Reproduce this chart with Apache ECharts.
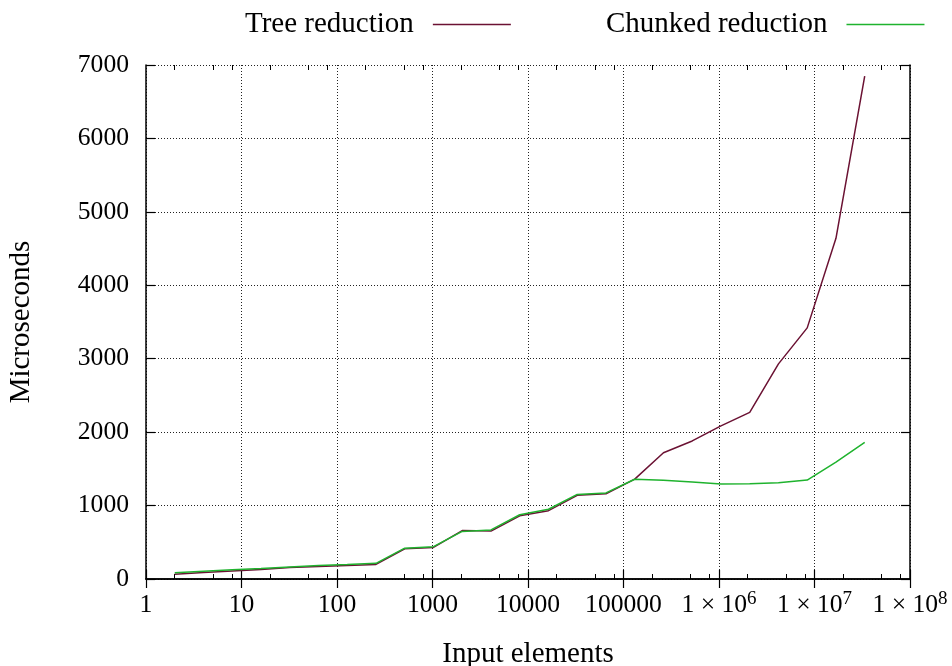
<!DOCTYPE html>
<html>
<head>
<meta charset="utf-8">
<script src="https://cdn.jsdelivr.net/npm/echarts@6/dist/echarts.min.js"></script>
<style>
  html, body { margin: 0; padding: 0; background: #fff; }
  #chart { width: 952px; height: 666px; }
</style>
</head>
<body>
<div id="chart"></div>
<script>
// input sizes (powers of two) and measured times in microseconds
const inputSizes = [2, 4, 8, 16, 32, 64, 128, 256, 512, 1024, 2048, 4096, 8192, 16384, 32768,
  65536, 131072, 262144, 524288, 1048576, 2097152, 4194304, 8388608, 16777216, 33554432]
const treeTimes = [65, 90, 110, 130, 155, 170, 185, 198, 412, 430, 660, 652, 860, 930, 1140,
  1160, 1360, 1720, 1880, 2085, 2270, 2930, 3420, 4640, 6850]
const chunkedTimes = [86, 105, 125, 142, 165, 185, 198, 213, 420, 440, 648, 668, 875, 950, 1152,
  1172, 1358, 1344, 1321, 1294, 1298, 1312, 1348, 1593, 1862]

const xTickLabels = ['1', '10', '100', '1000', '10000', '100000', '1 × 10^6', '1 × 10^7', '1 × 10^8']
const yTickLabels = ['0', '1000', '2000', '3000', '4000', '5000', '6000', '7000']

const FONT = 'Liberation Serif, Times New Roman, serif'
const TREE = '#6b1233'
const CHUNK = '#1fb32e'

// minor tics at 2, 5, 8 of every decade
const minorTicks = []
for (let e = 0; e < 8; e++) [2, 5, 8].forEach(m => minorTicks.push(m * Math.pow(10, e)))

const chart = echarts.init(document.getElementById('chart'))

function xLabel(v) {
  const s = xTickLabels[Math.round(Math.log10(v))]
  if (!s) return ''
  const p = s.split('^')
  return p.length > 1 ? '{n|' + p[0] + '}{s|' + p[1] + '}' : '{n|' + s + '}'
}

function legendFor(name, left) {
  return {
    left: left, top: 5, align: 'right', itemWidth: 78, itemHeight: 14,
    itemStyle: { opacity: 0 },
    lineStyle: { width: 1.5 },
    textStyle: { fontFamily: FONT, fontSize: 29, color: '#000', padding: [0, 14, 0, 0] },
    data: [name]
  }
}

const baseX = { type: 'log', logBase: 10, min: 1, max: 100000000, gridIndex: 0 }
const axisLine = { show: true, lineStyle: { color: '#000', width: 1.5 } }

chart.setOption({
  animation: false,
  backgroundColor: '#fff',
  textStyle: { fontFamily: FONT },
  legend: [legendFor('Tree reduction', 240), legendFor('Chunked reduction', 601)],
  grid: { left: 146, right: 42, top: 65, bottom: 87, outerBoundsMode: 'none' },
  xAxis: [
    Object.assign({}, baseX, {
      position: 'bottom',
      name: 'Input elements', nameLocation: 'middle', nameGap: 61,
      nameTextStyle: { fontFamily: FONT, fontSize: 29, color: '#000' },
      axisLine: axisLine,
      axisTick: { show: true, inside: true, length: 9, lineStyle: { color: '#000', width: 1.2 } },
      axisLabel: {
        margin: 11, color: '#000', formatter: xLabel,
        rich: {
          n: { fontFamily: FONT, fontSize: 25.6, color: '#000', lineHeight: 28, verticalAlign: 'bottom' },
          s: { fontFamily: FONT, fontSize: 19, color: '#000', lineHeight: 28, verticalAlign: 'top' }
        }
      },
      splitLine: { show: true, lineStyle: { color: '#222', type: [1, 2], width: 1 } }
    }),
    Object.assign({}, baseX, {
      position: 'top',
      axisLine: axisLine,
      axisTick: { show: true, inside: true, length: 9, lineStyle: { color: '#000', width: 1.2 } },
      axisLabel: { show: false },
      splitLine: { show: false }
    }),
    Object.assign({}, baseX, {
      position: 'bottom',
      axisLine: { show: false },
      axisTick: { show: true, inside: true, length: 5, customValues: minorTicks, lineStyle: { color: '#000', width: 1 } },
      axisLabel: { show: false },
      splitLine: { show: false }
    }),
    Object.assign({}, baseX, {
      position: 'top',
      axisLine: { show: false },
      axisTick: { show: true, inside: true, length: 5, customValues: minorTicks, lineStyle: { color: '#000', width: 1 } },
      axisLabel: { show: false },
      splitLine: { show: false }
    })
  ],
  yAxis: [
    {
      type: 'value', min: 0, max: 7000, interval: 1000, position: 'left',
      name: 'Microseconds', nameLocation: 'middle', nameGap: 110,
      nameTextStyle: { fontFamily: FONT, fontSize: 29, color: '#000' },
      axisLine: axisLine,
      axisTick: { show: true, inside: true, length: 9, lineStyle: { color: '#000', width: 1.2 } },
      axisLabel: {
        margin: 17, color: '#000', fontFamily: FONT, fontSize: 25.6,
        formatter: v => yTickLabels[Math.round(v / 1000)]
      },
      splitLine: { show: true, lineStyle: { color: '#222', type: [1, 2], width: 1 } }
    },
    {
      type: 'value', min: 0, max: 7000, interval: 1000, position: 'right',
      axisLine: axisLine,
      axisTick: { show: true, inside: true, length: 9, lineStyle: { color: '#000', width: 1.2 } },
      axisLabel: { show: false },
      splitLine: { show: false }
    }
  ],
  series: [
    {
      name: 'Tree reduction', type: 'line', xAxisIndex: 0, yAxisIndex: 0,
      data: inputSizes.map((x, i) => [x, treeTimes[i]]),
      symbol: 'none', lineStyle: { color: TREE, width: 1.5 }, itemStyle: { color: TREE }
    },
    {
      name: 'Chunked reduction', type: 'line', xAxisIndex: 0, yAxisIndex: 0,
      data: inputSizes.map((x, i) => [x, chunkedTimes[i]]),
      symbol: 'none', lineStyle: { color: CHUNK, width: 1.5 }, itemStyle: { color: CHUNK }
    }
  ]
})
</script>
</body>
</html>
